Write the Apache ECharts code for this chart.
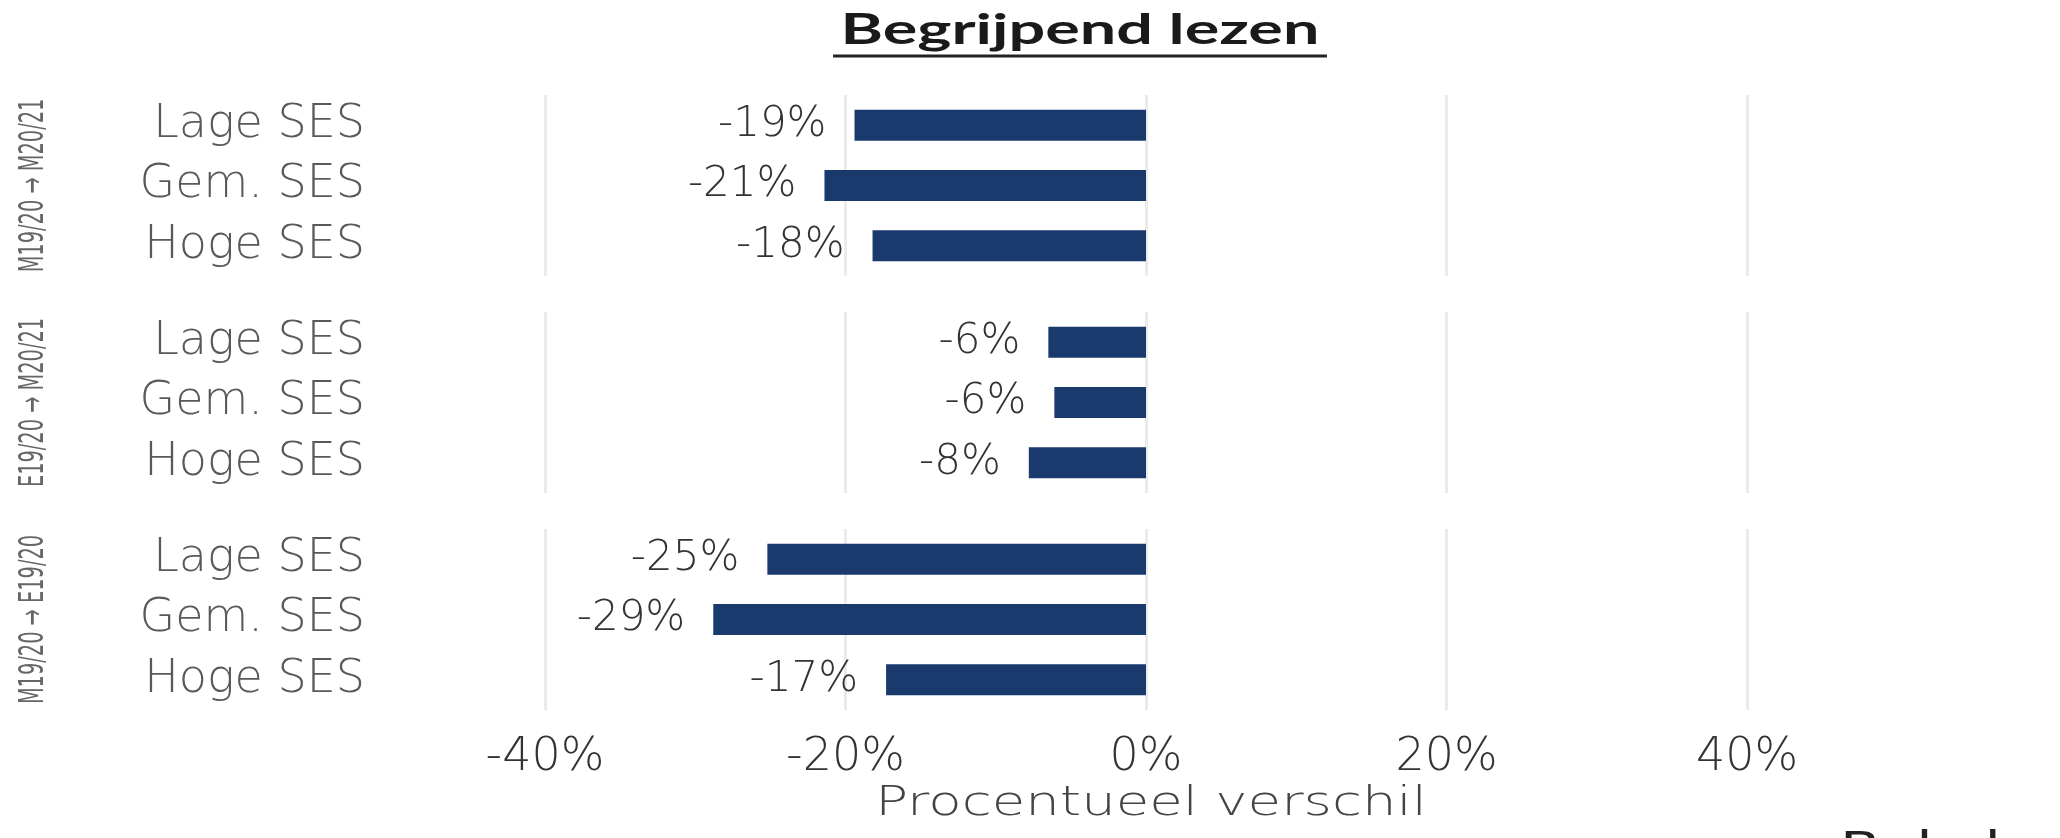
<!DOCTYPE html>
<html>
<head>
<meta charset="utf-8">
<script src="https://cdn.jsdelivr.net/npm/echarts@6/dist/echarts.min.js"></script>
<style>
  html, body { margin: 0; padding: 0; background: #fff; }
  #chart { width: 2060px; height: 838px; }
</style>
</head>
<body>
<div id="chart"></div>
<script>
// categorieën en panelen
const categories = ['Lage SES', 'Gem. SES', 'Hoge SES'];
const panelLabels = ['M19/20 \u2192 M20/21', 'E19/20 \u2192 M20/21', 'M19/20 \u2192 E19/20'];
// procentueel verschil per SES-groep
const m1920_m2021 = [-19.4, -21.4, -18.2];
const e1920_m2021 = [-6.5, -6.1, -7.8];
const m1920_e1920 = [-25.2, -28.8, -17.3];
const xTicks = [-40, -20, 0, 20, 40];

const panelData = [m1920_m2021, e1920_m2021, m1920_e1920];
const font = 'DejaVu Sans';
const tops = [89, 306, 523]; // paneelranden
const panelH = 193;
const pad = 6; // ggplot-achtige marge boven/onder de balken

const chart = echarts.init(document.getElementById('chart'), null, { renderer: 'canvas' });

const grids = [], xAxes = [], yAxes = [], series = [], graphics = [];

panelData.forEach((vals, i) => {
    const last = i === panelData.length - 1;
    grids.push({ left: 545, right: 313, top: tops[i] + pad, height: panelH - 2 * pad });
    xAxes.push({
        type: 'value',
        gridIndex: i,
        min: xTicks[0],
        max: xTicks[xTicks.length - 1],
        interval: 20,
        axisLine: { show: false },
        axisTick: { show: false },
        axisLabel: {
            show: last,
            margin: 25,
            fontFamily: font,
            fontWeight: 300,
            fontSize: 46,
            color: '#333',
            formatter: v => v + '%'
        },
        splitLine: { show: true, lineStyle: { color: '#ebebeb', width: 3 } }
    });
    yAxes.push({
        type: 'category',
        gridIndex: i,
        data: categories,
        inverse: true,
        axisLine: { show: false },
        axisTick: { show: false },
        splitLine: { show: false },
        axisLabel: {
            interval: 0,
            hideOverlap: false,
            margin: 180,
            fontFamily: font,
            fontWeight: 300,
            fontSize: 46,
            color: '#595959'
        }
    });
    series.push({
        type: 'bar',
        xAxisIndex: i,
        yAxisIndex: i,
        data: vals,
        barWidth: 31,
        itemStyle: { color: '#1a3a6e' },
        label: {
            show: true,
            position: 'left',
            distance: 28,
            fontFamily: font,
            fontWeight: 300,
            fontSize: 42,
            color: '#333',
            formatter: p => Math.round(p.value) + '%'
        },
        silent: true
    });
    // facet strip label
    graphics.push({
        type: 'text',
        x: 34,
        y: tops[i] + panelH / 2,
        rotation: Math.PI / 2,
        scaleX: 0.57,
        style: {
            text: panelLabels[i],
            fontFamily: font,
            fontSize: 34,
            fill: '#666',
            align: 'center',
            verticalAlign: 'middle'
        }
    });
});

// titel (horizontaal uitgerekt zoals in het origineel)
graphics.push({
    type: 'text',
    x: 1080,
    y: 30,
    scaleX: 1.54,
    style: {
        text: 'Begrijpend lezen',
        fontFamily: 'Lato',
        fontWeight: 'bold',
        fontSize: 42,
        fill: '#1a1a1a',
        align: 'center',
        verticalAlign: 'middle'
    }
});
// onderstreping van de titel
graphics.push({
    type: 'line',
    shape: { x1: 833, y1: 56, x2: 1327, y2: 56 },
    style: { stroke: '#222', lineWidth: 3 }
});
// as-titel
graphics.push({
    type: 'text',
    x: 1151,
    y: 804,
    scaleX: 1.33,
    style: {
        text: 'Procentueel verschil',
        fontFamily: font,
        fontWeight: 300,
        fontSize: 41,
        fill: '#444',
        align: 'center',
        verticalAlign: 'middle'
    }
});
// afgesneden bijschrift rechtsonder
graphics.push({
    type: 'text',
    x: 1840,
    y: 830,
    scaleX: 1.4,
    style: {
        text: 'Bekeken',
        fontFamily: font,
        fontSize: 42,
        fill: '#222',
        align: 'left',
        verticalAlign: 'top'
    }
});

chart.setOption({
    backgroundColor: '#ffffff',
    animation: false,
    grid: grids,
    xAxis: xAxes,
    yAxis: yAxes,
    series: series,
    graphic: graphics
});
</script>
</body>
</html>
